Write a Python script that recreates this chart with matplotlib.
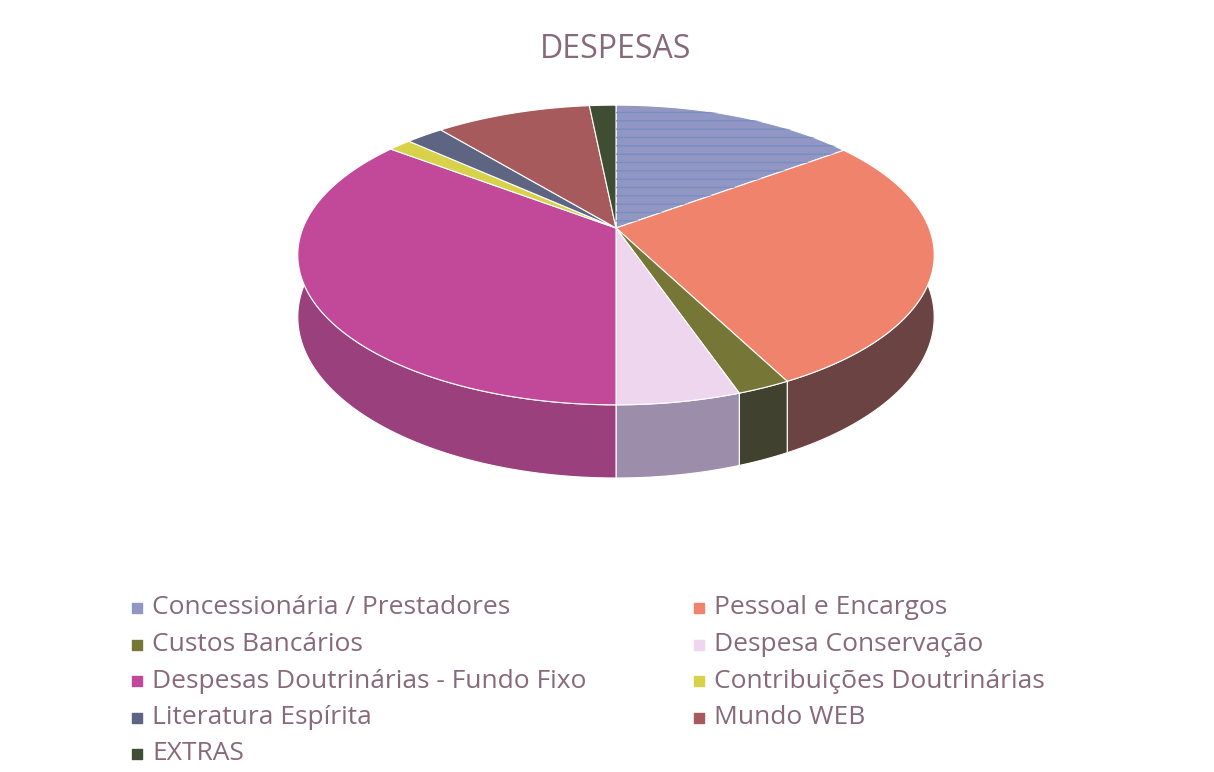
import numpy as np
import matplotlib.pyplot as plt
from matplotlib.patches import Polygon

# slice values (percent), clockwise from 12 o'clock
labels = ['Concessionária / Prestadores', 'Pessoal e Encargos', 'Custos Bancários',
          'Despesa Conservação', 'Despesas Doutrinárias - Fundo Fixo',
          'Contribuições Doutrinárias', 'Literatura Espírita', 'Mundo WEB', 'EXTRAS']
values = [14.9, 27.5, 2.3, 5.3, 35.3, 1.4, 2.3, 9.4, 1.6]

top_colors = ['#9296c2', '#f0836b', '#767636', '#eed6ef', '#c2489a',
              '#d8d24a', '#5e6582', '#a65a5c', '#3f4d33']
side_colors = ['#6f7396', '#6c4343', '#40422f', '#9c8eaa', '#9a407c',
               '#a8a235', '#464c63', '#7a3f42', '#2e3825']

font = 'Open Sans'
text_color = '#876a7a'

plt.rcParams['hatch.linewidth'] = 1.0

fig = plt.figure(figsize=(12.14, 7.72), dpi=100)
ax = fig.add_axes([0, 0, 1, 1])
ax.set_xlim(0, 1214)
ax.set_ylim(772, 0)
ax.axis('off')

# 3d pie geometry (pixel units)
cx, cy = 616, 228
rx, ry, k = 313, 145, 0.18
depth = 60


def proj(theta, drop=False):
    u, v = np.sin(theta), np.cos(theta)
    s = 1.0 / (1.0 + k * v)
    x = cx + rx * u * s
    y = cy - ry * v * s
    if drop:
        y = y + depth * s
    return x, y


frac = np.array(values) / np.sum(values)
edges = np.concatenate([[0], np.cumsum(frac)]) * 2 * np.pi

# side walls (front half only)
lo, hi = np.pi / 2 - 0.25, 3 * np.pi / 2 + 0.25
for i in range(len(values)):
    a0, a1 = max(edges[i], lo), min(edges[i + 1], hi)
    if a1 <= a0:
        continue
    t = np.linspace(a0, a1, 80)
    xt, yt = proj(t)
    xb, yb = proj(t[::-1], drop=True)
    pts = np.column_stack([np.concatenate([xt, xb]), np.concatenate([yt, yb])])
    ax.add_patch(Polygon(pts, closed=True, facecolor=side_colors[i],
                         edgecolor='white', lw=0.8, zorder=1))

# top faces
for i in range(len(values)):
    t = np.linspace(edges[i], edges[i + 1], 120)
    xt, yt = proj(t)
    pts = np.column_stack([np.concatenate([[cx], xt]), np.concatenate([[cy], yt])])
    ax.add_patch(Polygon(pts, closed=True, facecolor=top_colors[i],
                         edgecolor='white', lw=0.8, zorder=2))
    if i == 0:
        # the scanned first slice shows blue streaks
        ax.add_patch(Polygon(pts, closed=True, facecolor='none', hatch='--',
                             edgecolor='#6f8dc4', lw=0, alpha=0.8, zorder=2.5))

ax.text(616, 49, 'DESPESAS', ha='center', va='center', fontsize=23,
        color=text_color, family=font)

# legend, two columns, row-major like the original
for i, lab in enumerate(labels):
    row, col = divmod(i, 2)
    x = [133, 695][col]
    y = 608 + row * 36.5
    ax.scatter([x + 4], [y], marker='s', s=45, color=top_colors[i], zorder=3)
    ax.text(x + 19, y, lab, ha='left', va='center', fontsize=19,
            color=text_color, family=font)

fig.savefig('out.png', dpi=100, facecolor='white')
